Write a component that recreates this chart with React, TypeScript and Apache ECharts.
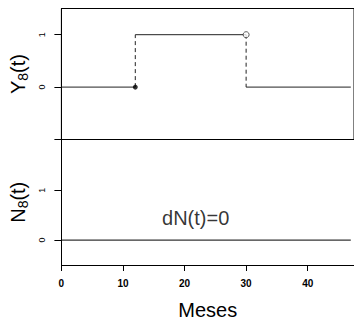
import React, { useEffect, useRef } from "react";
import * as echarts from "echarts";

// Data
const changeTimes = [12, 30]; // months where Y8(t) changes
const levels = [0, 1, 0]; // Y8(t) levels between change times
const endTime = 47; // end of follow-up
const dNLevel = 0; // N8(t) stays at 0
const xTicks = [0, 10, 20, 30, 40];
const yTopTicks = [0, 1];
const yBottomTicks = [0, 1];
const annotation = "dN(t)=0";
const annotationPos = [21.8, 0.44];

const FONT = "Liberation Sans, Arial, Helvetica, sans-serif";

export default function App() {
  const ref = useRef<HTMLDivElement>(null);

  useEffect(() => {
    if (!ref.current) return;
    const chart = echarts.init(ref.current, null, { renderer: "svg" });

    const bounds = [0, ...changeTimes, endTime];
    const solid: any[] = [];
    for (let i = 0; i < levels.length; i++) {
      if (i > 0) solid.push([bounds[i], "-"]);
      solid.push([bounds[i], levels[i]]);
      solid.push([bounds[i + 1], levels[i]]);
    }
    const dashed: any[] = [];
    changeTimes.forEach((t, i) => {
      if (i > 0) dashed.push([t, "-"]);
      dashed.push([t, levels[i]]);
      dashed.push([t, levels[i + 1]]);
    });
    const filledPt = [[changeTimes[0], levels[0]]];
    const openPt = [[changeTimes[1], levels[1]]];
    const dNLine = [
      [0, dNLevel],
      [endTime, dNLevel],
    ];

    const axisLineStyle = { color: "#000", width: 1 };
    const nameRich = {
      a: { fontSize: 20, color: "#000", fontFamily: FONT },
      s: { fontSize: 14, color: "#000", fontFamily: FONT, padding: [9, 0, 0, 0] },
    };

    chart.setOption({
      animation: false,
      backgroundColor: "#fff",
      textStyle: { fontFamily: FONT },
      grid: [
        { left: 57.5, top: 8.5, width: 297, height: 131, show: true, borderColor: "#000", borderWidth: 1, backgroundColor: "transparent" },
        { left: 57.5, top: 139.5, width: 297, height: 131, show: false },
      ],
      xAxis: [
        { gridIndex: 0, type: "value", min: 0, max: 47.52, show: false, splitLine: { show: false } },
        {
          gridIndex: 1,
          type: "value",
          min: 0,
          max: 47.52,
          interval: 10,
          splitLine: { show: false },
          axisLine: { show: true, onZero: false, lineStyle: axisLineStyle },
          axisTick: { show: true, length: 6, lineStyle: axisLineStyle, customValues: xTicks },
          axisLabel: { customValues: xTicks, fontSize: 10, fontWeight: "bold", color: "#000", margin: 13, fontFamily: FONT },
          name: "Meses",
          nameLocation: "middle",
          nameGap: 35,
          nameTextStyle: { fontSize: 20, color: "#000", fontFamily: FONT },
        },
      ],
      yAxis: [
        {
          gridIndex: 0,
          type: "value",
          min: -1,
          max: 1.5,
          splitLine: { show: false },
          axisLine: { show: true, onZero: false, lineStyle: axisLineStyle },
          axisTick: { show: true, length: 7, lineStyle: axisLineStyle, customValues: [-1, ...yTopTicks] },
          axisLabel: { customValues: yTopTicks, rotate: 90, fontSize: 9, color: "#000", margin: 15, fontFamily: FONT },
          name: "{a|Y}{s|8}{a|(t)}",
          nameLocation: "middle",
          nameRotate: 90,
          nameGap: 26,
          nameTextStyle: { rich: nameRich },
        },
        {
          gridIndex: 1,
          type: "value",
          min: -0.5,
          max: 2.02,
          splitLine: { show: false },
          axisLine: { show: true, onZero: false, lineStyle: axisLineStyle },
          axisTick: { show: true, length: 7, lineStyle: axisLineStyle, customValues: yBottomTicks },
          axisLabel: { customValues: yBottomTicks, rotate: 90, fontSize: 9, color: "#000", margin: 15, fontFamily: FONT },
          name: "{a|N}{s|8}{a|(t)}",
          nameLocation: "middle",
          nameRotate: 90,
          nameGap: 26,
          nameTextStyle: { rich: nameRich },
        },
      ],
      series: [
        {
          type: "line",
          xAxisIndex: 0,
          yAxisIndex: 0,
          data: solid,
          symbol: "none",
          connectNulls: false,
          lineStyle: { color: "#222", width: 1 },
          silent: true,
        },
        {
          type: "line",
          xAxisIndex: 0,
          yAxisIndex: 0,
          data: dashed,
          symbol: "none",
          connectNulls: false,
          lineStyle: { color: "#222", width: 1, type: [4, 3] },
          silent: true,
        },
        {
          type: "scatter",
          xAxisIndex: 0,
          yAxisIndex: 0,
          data: filledPt,
          symbol: "circle",
          symbolSize: 5,
          itemStyle: { color: "#000" },
          z: 5,
        },
        {
          type: "scatter",
          xAxisIndex: 0,
          yAxisIndex: 0,
          data: openPt,
          symbol: "circle",
          symbolSize: 6,
          itemStyle: { color: "#fff", borderColor: "#333", borderWidth: 1 },
          z: 5,
        },
        {
          type: "line",
          xAxisIndex: 1,
          yAxisIndex: 1,
          data: dNLine,
          symbol: "none",
          clip: false,
          z: 10,
          lineStyle: { color: "#000", width: 1 },
          silent: true,
        },
        {
          type: "scatter",
          xAxisIndex: 1,
          yAxisIndex: 1,
          data: [annotationPos],
          symbolSize: 0,
          label: {
            show: true,
            position: "inside",
            formatter: annotation,
            fontSize: 20,
            color: "#000",
            fontFamily: FONT,
          },
          silent: true,
        },
      ],
    });

    return () => chart.dispose();
  }, []);

  return (
    <div
      ref={ref}
      style={{ position: "fixed", left: 0, top: 0, width: 354, height: 321, background: "#fff" }}
    />
  );
}
